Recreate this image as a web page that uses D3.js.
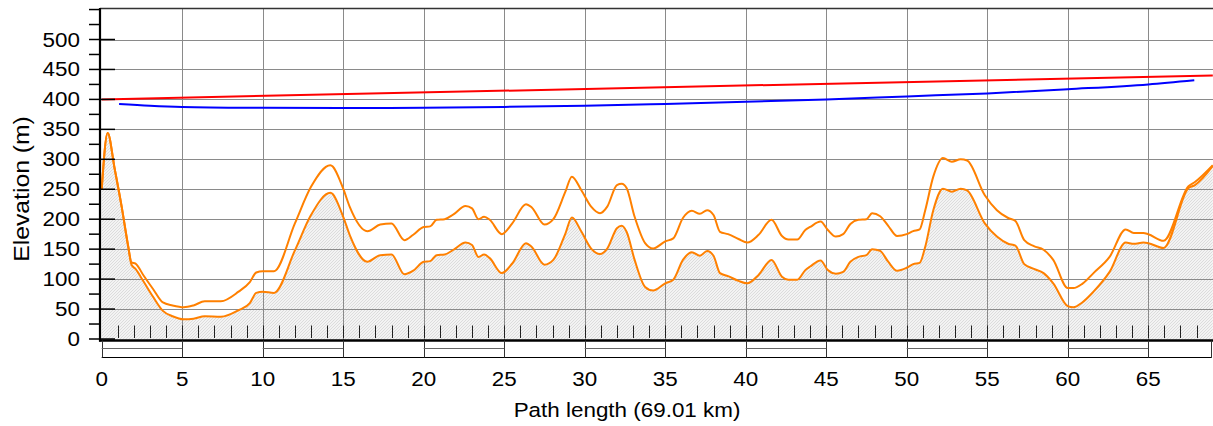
<!DOCTYPE html>
<html>
<head>
<meta charset="utf-8">
<script src="https://cdn.jsdelivr.net/npm/d3@7"></script>
<style>
  html, body { margin: 0; padding: 0; background: #ffffff; }
  svg { display: block; }
</style>
</head>
<body>
<svg id="chart" width="1213" height="426"></svg>
<script>
// ---------------- data ----------------
const profileKm = [0, 0.37, 0.8, 1.24, 1.65, 1.85, 2.1, 2.6, 3.2, 3.8, 4.4, 5.1, 5.7, 6.4, 7.4, 8.5, 9.2, 9.6, 10.0, 10.7,
  12.0, 13.0, 14.2, 15.0, 15.4, 16.5, 17.3, 18.0, 18.8, 19.35, 20.0, 20.4, 20.8, 21.3, 21.85, 22.6, 23.0, 23.4, 23.75, 24.1,
  24.85, 25.5, 26.35, 26.7, 27.5, 28.05, 28.8, 29.2, 29.8, 30.4, 30.95, 31.4, 32.0, 32.3, 32.6, 33.1, 33.75, 34.25, 35.0, 35.5,
  36.1, 36.65, 37.15, 37.6, 38.0, 38.4, 38.9, 39.55, 40.1, 40.8, 41.6, 42.25, 42.65, 43.2, 43.7, 44.0, 44.65, 45.1, 45.6, 46.05,
  46.5, 47.0, 47.5, 47.85, 48.35, 48.85, 49.4, 50.0, 50.4, 50.8, 51.15, 51.65, 52.25, 52.8, 53.35, 53.75, 54.85, 55.6, 56.3, 56.75,
  57.3, 57.9, 58.5, 59.1, 60.0, 60.35, 60.9, 61.6, 62.6, 63.6, 64.1, 64.7, 65.0, 65.95, 67.5, 67.9, 69.01];

const terrainM = [250, 344, 285, 221, 154, 124, 117, 96, 70, 47, 38, 33, 34, 38, 37, 48, 60, 77, 79, 77,
  148, 207, 244, 204, 174, 129, 140, 141, 108, 114, 129, 130, 140, 141, 149, 161, 157, 137, 141, 135,
  110, 126, 160, 154, 124, 132, 176, 203, 179, 151, 142, 151, 185, 189, 179, 132, 87, 81, 93, 99,
  132, 145, 139, 147, 139, 110, 105, 97, 93, 107, 132, 104, 99, 99, 115, 121, 131, 115, 109, 112,
  129, 137, 140, 150, 147, 129, 114, 119, 125, 127, 154, 215, 251, 246, 251, 248, 193, 171, 159, 156,
  125, 117, 110, 93, 55, 53, 61, 79, 112, 161, 159, 161, 160, 152, 252, 257, 289];

const clutterM = [250, 344, 285, 221, 154, 128, 126, 106, 83, 61, 56, 53, 56, 63, 63, 79, 95, 111, 113, 113,
  193, 254, 290, 251, 221, 180, 191, 193, 165, 174, 187, 188, 199, 200, 208, 222, 218, 200, 204, 199,
  175, 193, 225, 220, 191, 200, 246, 271, 248, 221, 210, 221, 257, 259, 252, 204, 160, 151, 163, 168,
  202, 214, 209, 215, 207, 179, 175, 167, 161, 174, 199, 172, 166, 166, 182, 187, 196, 182, 171, 175,
  192, 199, 200, 210, 205, 189, 172, 175, 180, 183, 215, 271, 302, 296, 300, 298, 240, 215, 202, 197,
  165, 155, 149, 132, 85, 85, 92, 110, 137, 183, 177, 177, 175, 164, 255, 262, 290];

const lineOfSightKm = [0, 69.01];
const lineOfSightM = [400, 440];

const fresnelKm = [1.08, 3, 5, 10, 15, 20, 25, 30, 35, 40, 45, 50, 55, 60, 65, 67.86];
const fresnelM = [392.5, 389.5, 387.5, 386, 385.5, 386, 387.5, 389.5, 392.5, 396, 400, 405, 410, 417, 425, 432];

const xTickValues = [0, 5, 10, 15, 20, 25, 30, 35, 40, 45, 50, 55, 60, 65];
const yTickValues = [0, 50, 100, 150, 200, 250, 300, 350, 400, 450, 500];
const yMinorValues = [25, 75, 125, 175, 225, 275, 325, 375, 425, 475, 525, 550];
const pathLengthKm = 69.01;
const xTitle = "Path length (69.01 km)";
const yTitle = "Elevation (m)";

// ---------------- drawing ----------------
const svg = d3.select("#chart");
const x = d3.scaleLinear().domain([0, pathLengthKm]).range([101.7, 1212.8]);
const y = d3.scaleLinear().domain([0, 500]).range([339, 39.5]);

const axisY = 340.5, topY = 8.5, leftX = 100;
const FONT = "'Liberation Sans', Arial, sans-serif";
const SX = 1.15;

const defs = svg.append("defs");
const pat = defs.append("pattern").attr("id", "hatch").attr("patternUnits", "userSpaceOnUse")
  .attr("width", 3).attr("height", 3);
pat.append("rect").attr("width", 3).attr("height", 3).attr("fill", "#f3f3f3");
pat.append("path").attr("d", "M-1,1 L1,-1 M0,3 L3,0 M2,4 L4,2").attr("stroke", "#d2d2d2").attr("stroke-width", 0.7);

svg.append("rect").attr("width", 1213).attr("height", 426).attr("fill", "#fff");

const profile = profileKm.map((k, i) => ({ k, t: terrainM[i], c: clutterM[i] }));

// ground area
svg.append("path")
  .datum(profile)
  .attr("fill", "url(#hatch)")
  .attr("d", d3.area().x(d => x(d.k)).y0(axisY).y1(d => y(d.t)).curve(d3.curveMonotoneX));

// grid
const grid = svg.append("g").attr("stroke", "#8a8a8a").attr("stroke-width", 1);
grid.selectAll("line.h").data(yTickValues.filter(v => v > 0)).join("line")
  .attr("x1", leftX).attr("x2", 1213)
  .attr("y1", d => Math.round(y(d)) + 0.5).attr("y2", d => Math.round(y(d)) + 0.5);
grid.selectAll("line.v").data(xTickValues.filter(v => v > 0)).join("line")
  .attr("x1", d => Math.round(x(d)) + 0.5).attr("x2", d => Math.round(x(d)) + 0.5)
  .attr("y1", topY).attr("y2", axisY);

// minor x ticks
svg.append("g").attr("stroke", "#222").attr("stroke-width", 1)
  .selectAll("line").data(d3.range(1, 70)).join("line")
  .attr("x1", d => Math.round(x(d)) + 0.5).attr("x2", d => Math.round(x(d)) + 0.5)
  .attr("y1", 325.5).attr("y2", 338);

// profile lines
const lineT = d3.line().x(d => x(d.k)).y(d => y(d.t)).curve(d3.curveMonotoneX);
const lineC = d3.line().x(d => x(d.k)).y(d => y(d.c)).curve(d3.curveMonotoneX);
svg.append("path").datum(profile).attr("fill", "none").attr("stroke", "#ff8000").attr("stroke-width", 2).attr("d", lineC);
svg.append("path").datum(profile).attr("fill", "none").attr("stroke", "#ff8000").attr("stroke-width", 2).attr("d", lineT);

// line of sight & fresnel
svg.append("path").datum(lineOfSightKm.map((k, i) => [k, lineOfSightM[i]]))
  .attr("fill", "none").attr("stroke", "#ff0000").attr("stroke-width", 2)
  .attr("d", d3.line().x(d => x(d[0])).y(d => y(d[1])));
svg.append("path").datum(fresnelKm.map((k, i) => [k, fresnelM[i]]))
  .attr("fill", "none").attr("stroke", "#0000ff").attr("stroke-width", 2)
  .attr("d", d3.line().x(d => x(d[0])).y(d => y(d[1])).curve(d3.curveMonotoneX));

// axes frame
svg.append("line").attr("x1", leftX).attr("x2", 1213).attr("y1", topY).attr("y2", topY)
  .attr("stroke", "#333").attr("stroke-width", 1.5);
svg.append("line").attr("x1", leftX).attr("x2", leftX).attr("y1", topY - 0.5).attr("y2", axisY + 1)
  .attr("stroke", "#000").attr("stroke-width", 2.2);
svg.append("line").attr("x1", leftX - 1).attr("x2", 1213).attr("y1", axisY).attr("y2", axisY)
  .attr("stroke", "#000").attr("stroke-width", 2.4);

// y ticks
const yt = svg.append("g").attr("stroke", "#000").attr("stroke-width", 1.5);
yt.selectAll("line.maj").data(yTickValues).join("line")
  .attr("x1", 89).attr("x2", 115).attr("y1", d => y(d)).attr("y2", d => y(d));
svg.append("g").attr("stroke", "#000").attr("stroke-width", 1.5)
  .selectAll("line").data(yMinorValues).join("line")
  .attr("x1", 89).attr("x2", leftX).attr("y1", d => y(d)).attr("y2", d => y(d));

// scale bar under axis
const sb = svg.append("g");
const segEdges = d3.range(0, pathLengthKm, 5).concat([pathLengthKm]);
sb.append("line").attr("x1", x(0)).attr("x2", x(pathLengthKm) - 1).attr("y1", 357.5).attr("y2", 357.5)
  .attr("stroke", "#000").attr("stroke-width", 1);
sb.selectAll("line.e").data(segEdges).join("line")
  .attr("x1", (d, i) => Math.round(i === segEdges.length - 1 ? x(d) - 2 : x(d)) + 0.5)
  .attr("x2", (d, i) => Math.round(i === segEdges.length - 1 ? x(d) - 2 : x(d)) + 0.5)
  .attr("y1", axisY).attr("y2", 357.5).attr("stroke", "#333").attr("stroke-width", 1);
sb.selectAll("line.m").data(segEdges.slice(0, -1).filter((d, i) => i % 2 === 0)).join("line")
  .attr("x1", d => x(d)).attr("x2", d => x(Math.min(d + 5, pathLengthKm)))
  .attr("y1", 348.5).attr("y2", 348.5).attr("stroke", "#666").attr("stroke-width", 1);

// labels
function stretched(g, tx, ty, txt, anchor, size, rot) {
  const t = g.append("g").attr("transform", `translate(${tx},${ty})` + (rot ? ` rotate(${rot})` : "") + ` scale(${SX},1)`);
  t.append("text").attr("text-anchor", anchor).attr("font-family", FONT).attr("font-size", size)
    .attr("fill", "#000").text(txt);
}
const labels = svg.append("g");
yTickValues.forEach(v => stretched(labels, 80, y(v) + 7, String(v), "end", 19.5));
xTickValues.forEach(v => stretched(labels, x(v), 386, String(v), "middle", 19.5));
stretched(labels, 627, 417, xTitle, "middle", 19.5);
stretched(labels, 29, 189, yTitle, "middle", 21.5, -90);
</script>
</body>
</html>
